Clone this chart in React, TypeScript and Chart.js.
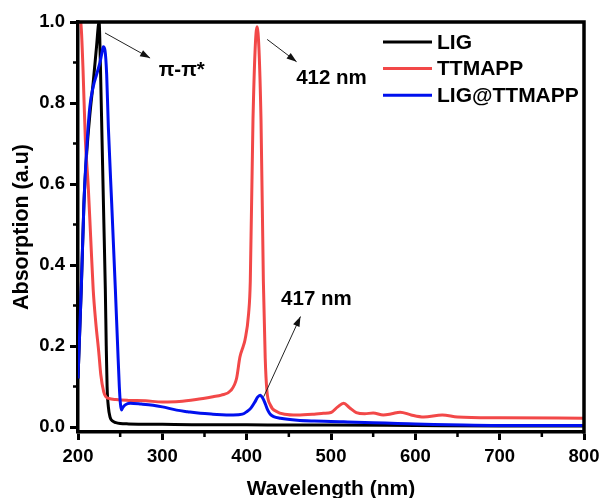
import React, { useEffect, useRef } from "react";
import { Chart, registerables } from "chart.js";

Chart.register(...registerables);

// ---- data ----
const seriesNames = ["LIG", "TTMAPP", "LIG@TTMAPP"];

const ligWavelength = [200, 204, 207, 210, 214, 218, 222, 225, 226.5, 228.5, 230.5, 232.4, 233.5, 234.5, 236, 238, 241, 245, 250, 260, 300, 350, 400, 450, 500, 600, 700, 800];
const ligAbsorption = [0.12, 0.35, 0.55, 0.667, 0.77, 0.85, 0.94, 1.0, 0.9, 0.71, 0.52, 0.34, 0.2, 0.1, 0.05, 0.025, 0.015, 0.011, 0.009, 0.008, 0.007, 0.006, 0.006, 0.005, 0.005, 0.004, 0.003, 0.003];

const ttmappWavelength = [200, 204, 206, 208.7, 212, 215, 218, 221, 224.6, 227, 230.5, 233, 236.5, 245, 260, 280, 300, 320, 340, 360, 370, 381, 388, 392, 396, 398, 402.3, 404.3, 407.5, 412.3, 417, 419.8, 422, 424, 428, 436, 445, 460, 480, 491, 500, 508, 515, 522, 530, 540, 550, 562, 572, 582, 595, 610, 632, 650, 700, 800];
const ttmappAbsorption = [1.05, 0.98, 0.88, 0.71, 0.6, 0.47, 0.34, 0.26, 0.186, 0.13, 0.087, 0.075, 0.071, 0.068, 0.066, 0.065, 0.062, 0.063, 0.068, 0.075, 0.079, 0.09, 0.12, 0.173, 0.2, 0.215, 0.28, 0.36, 0.76, 0.988, 0.76, 0.36, 0.17, 0.09, 0.055, 0.038, 0.032, 0.03, 0.032, 0.034, 0.036, 0.05, 0.059, 0.048, 0.036, 0.033, 0.035, 0.03, 0.033, 0.037, 0.03, 0.025, 0.03, 0.025, 0.023, 0.022];

const mixWavelength = [200, 204, 207, 210, 214, 218, 222, 226, 228, 230, 232, 234, 236, 240, 244.3, 247, 249, 250.2, 251.5, 253, 256, 262, 275, 289, 300, 317, 330, 345, 360, 384, 395, 400, 405, 410, 413, 416, 419, 422, 425, 428, 432, 440, 460, 480, 500, 515, 530, 550, 579, 600, 657, 700, 750, 800];
const mixAbsorption = [0.12, 0.35, 0.55, 0.676, 0.79, 0.84, 0.87, 0.9, 0.92, 0.939, 0.93, 0.87, 0.74, 0.55, 0.34, 0.2, 0.1, 0.06, 0.042, 0.048, 0.055, 0.059, 0.057, 0.054, 0.05, 0.042, 0.038, 0.034, 0.032, 0.03, 0.032, 0.038, 0.047, 0.063, 0.074, 0.079, 0.072, 0.058, 0.042, 0.032, 0.026, 0.022, 0.017, 0.015, 0.014, 0.013, 0.012, 0.011, 0.009, 0.008, 0.005, 0.004, 0.004, 0.004];

const xTickValues = [200, 300, 400, 500, 600, 700, 800];
const xMinorValues = [250, 350, 450, 550, 650, 750];
const yTickValues = [0.0, 0.2, 0.4, 0.6, 0.8, 1.0];
const yMinorValues = [0.1, 0.3, 0.5, 0.7, 0.9];

const annotationTexts = ["π-π*", "412 nm", "417 nm"];
// [label x, label y, arrow from x, from y, arrow to x, to y] in data units
const annotationAnchors = [
  [323, 0.881, 232, 0.973, 285.5, 0.911],
  [500.6, 0.862, 424.3, 0.957, 459.2, 0.902],
  [482.7, 0.316, 420.2, 0.075, 463.8, 0.273],
];

const colors = ["#000000", "#f24848", "#0010ee"];
const FONT = "'Liberation Sans', Arial, Helvetica, sans-serif";

const pts = (xs: number[], ys: number[]) => xs.map((x, i) => ({ x, y: ys[i] }));

const decorPlugin = {
  id: "decor",
  afterDatasetsDraw(chart: any) {
    const { ctx, chartArea: a, scales } = chart;
    const x = scales.x;
    const y = scales.y;
    ctx.save();
    // frame top & right
    ctx.strokeStyle = "#000";
    ctx.lineWidth = 3.5;
    ctx.beginPath();
    ctx.moveTo(a.left - 1.5, a.top);
    ctx.lineTo(a.right, a.top);
    ctx.lineTo(a.right, a.bottom + 1.5);
    ctx.stroke();
    // minor ticks
    ctx.lineWidth = 2.5;
    ctx.beginPath();
    for (const v of xMinorValues) {
      const px = x.getPixelForValue(v);
      ctx.moveTo(px, a.bottom);
      ctx.lineTo(px, a.bottom + 5);
    }
    for (const v of yMinorValues) {
      const py = y.getPixelForValue(v);
      ctx.moveTo(a.left, py);
      ctx.lineTo(a.left - 5, py);
    }
    ctx.stroke();

    // legend
    const lx0 = a.right - 201;
    const lx1 = a.right - 152;
    ctx.font = `bold 21px ${FONT}`;
    ctx.textBaseline = "middle";
    ctx.textAlign = "left";
    seriesNames.forEach((name, i) => {
      const ly = a.top + 20 + i * 26.6;
      ctx.strokeStyle = colors[i];
      ctx.lineWidth = 3;
      ctx.beginPath();
      ctx.moveTo(lx0, ly);
      ctx.lineTo(lx1, ly);
      ctx.stroke();
      ctx.fillStyle = "#000";
      ctx.fillText(name, lx1 + 5, ly + 1);
    });

    // annotations
    annotationTexts.forEach((t, i) => {
      const [tx, ty, fx, fy, ex, ey] = annotationAnchors[i];
      const px = x.getPixelForValue(tx);
      const py = y.getPixelForValue(ty);
      ctx.fillStyle = "#000";
      ctx.font = `bold 20.5px ${FONT}`;
      ctx.textAlign = "center";
      ctx.textBaseline = "middle";
      ctx.fillText(t, px, py);
      const x1 = x.getPixelForValue(fx);
      const y1 = y.getPixelForValue(fy);
      const x2 = x.getPixelForValue(ex);
      const y2 = y.getPixelForValue(ey);
      ctx.strokeStyle = "#222";
      ctx.lineWidth = 1;
      ctx.beginPath();
      ctx.moveTo(x1, y1);
      ctx.lineTo(x2, y2);
      ctx.stroke();
      const ang = Math.atan2(y2 - y1, x2 - x1);
      const L = 10;
      const W = 3.5;
      ctx.fillStyle = "#111";
      ctx.beginPath();
      ctx.moveTo(x2, y2);
      ctx.lineTo(x2 - L * Math.cos(ang) + W * Math.sin(ang), y2 - L * Math.sin(ang) - W * Math.cos(ang));
      ctx.lineTo(x2 - L * Math.cos(ang) - W * Math.sin(ang), y2 - L * Math.sin(ang) + W * Math.cos(ang));
      ctx.closePath();
      ctx.fill();
    });
    ctx.restore();
  },
};

export default function App() {
  const ref = useRef<HTMLCanvasElement | null>(null);
  useEffect(() => {
    document.body.style.margin = "0";
    const canvas = ref.current;
    if (!canvas) return;
    const series = [
      pts(ligWavelength, ligAbsorption),
      pts(ttmappWavelength, ttmappAbsorption),
      pts(mixWavelength, mixAbsorption),
    ];
    const chart = new Chart(canvas, {
      type: "line",
      data: {
        datasets: series.map((d, i) => ({
          label: seriesNames[i],
          data: d,
          borderColor: colors[i],
          backgroundColor: colors[i],
          borderWidth: 3,
          pointRadius: 0,
          cubicInterpolationMode: "monotone",
          order: 2 - i,
        })),
      },
      options: {
        responsive: false,
        animation: false,
        layout: { padding: { top: 22, right: 18, left: 0, bottom: 0 } },
        plugins: { legend: { display: false }, tooltip: { enabled: false } },
        scales: {
          x: {
            type: "linear",
            min: 200,
            max: 800,
            afterFit: (s: any) => {
              s.height = 66;
              s.paddingLeft = 0;
              s.paddingRight = 0;
            },
            afterBuildTicks: (s: any) => { s.ticks = xTickValues.map((v) => ({ value: v })); },
            ticks: {
              color: "#000",
              font: { family: FONT, size: 18.5, weight: "bold" },
              padding: 6,
              maxRotation: 0,
              callback: (v: any) => String(v),
            },
            grid: { display: true, drawOnChartArea: false, drawTicks: true, tickLength: 8, tickWidth: 3, tickColor: "#000" },
            border: { display: true, color: "#000", width: 3.5 },
            title: {
              display: true,
              text: "Wavelength (nm)",
              color: "#000",
              font: { family: FONT, size: 21, weight: "bold", lineHeight: 1 },
              padding: { top: 0, bottom: -2 },
            },
          },
          y: {
            type: "linear",
            min: -0.012,
            max: 1.0,
            afterFit: (s: any) => {
              s.width = 78;
              s.paddingTop = 0;
              s.paddingBottom = 0;
            },
            afterBuildTicks: (s: any) => { s.ticks = yTickValues.map((v) => ({ value: v })); },
            ticks: {
              color: "#000",
              font: { family: FONT, size: 18.5, weight: "bold" },
              padding: 5,
              callback: (v: any) => Number(v).toFixed(1),
            },
            grid: { display: true, drawOnChartArea: false, drawTicks: true, tickLength: 8, tickWidth: 3, tickColor: "#000" },
            border: { display: true, color: "#000", width: 3.5 },
            title: {
              display: true,
              text: "Absorption (a.u)",
              color: "#000",
              font: { family: FONT, size: 21.5, weight: "bold", lineHeight: 1 },
              padding: { top: 11, bottom: 0 },
            },
          },
        },
      },
      plugins: [decorPlugin],
    } as any);
    return () => chart.destroy();
  }, []);
  return (
    <div style={{ width: 602, height: 498, background: "#fff" }}>
      <canvas ref={ref} width={602} height={498} />
    </div>
  );
}
